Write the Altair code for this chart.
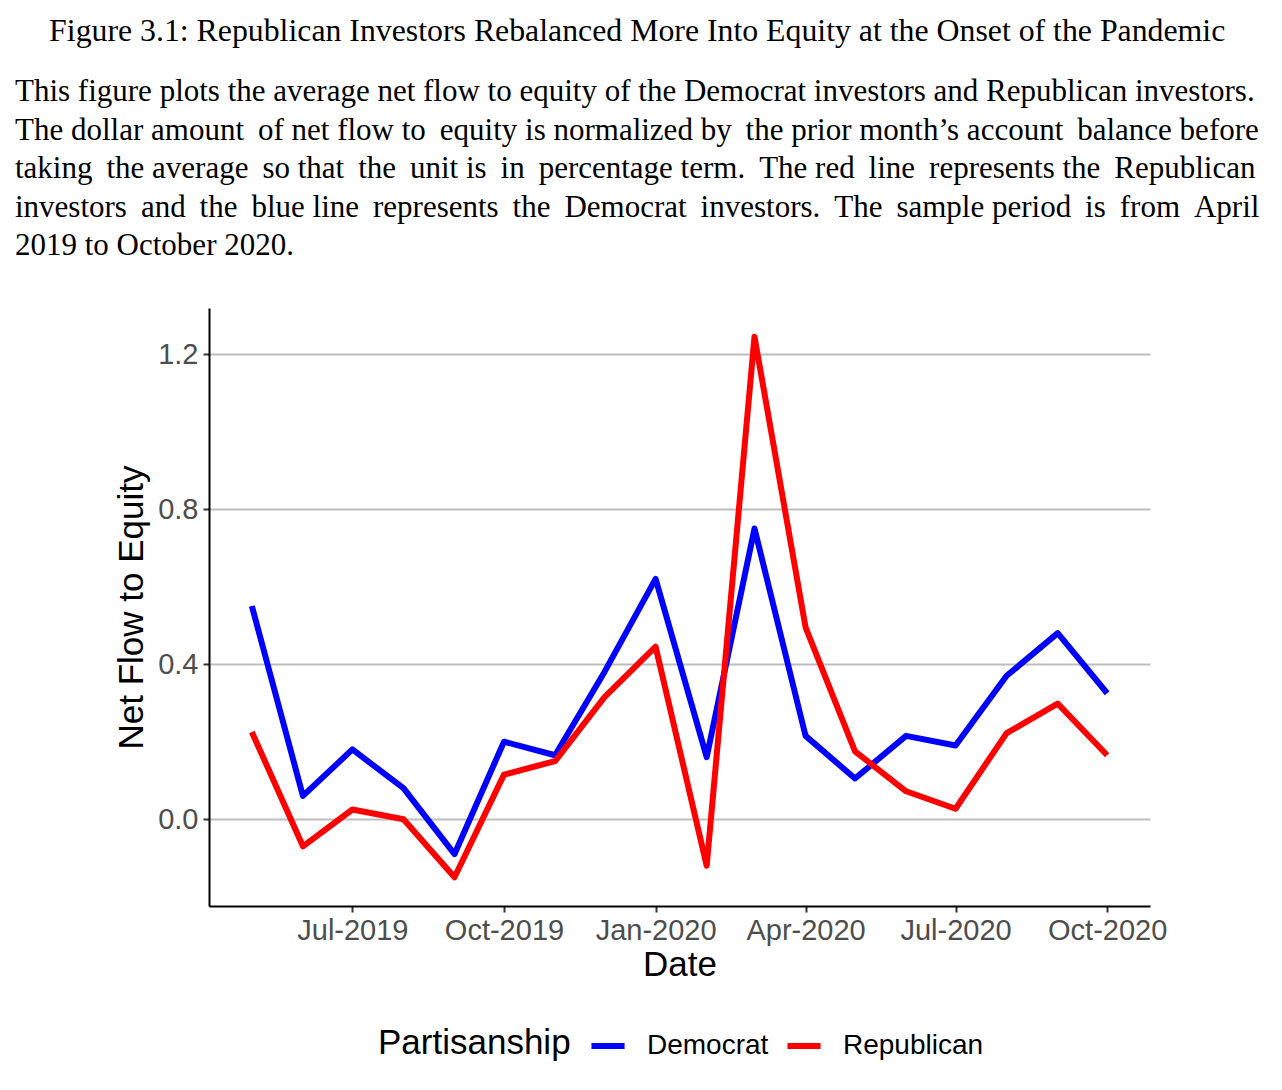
import altair as alt
import pandas as pd

months = ["2019-05-01", "2019-06-01", "2019-07-01", "2019-08-01", "2019-09-01",
          "2019-10-01", "2019-11-01", "2019-12-01", "2020-01-01", "2020-02-01",
          "2020-03-01", "2020-04-01", "2020-05-01", "2020-06-01", "2020-07-01",
          "2020-08-01", "2020-09-01", "2020-10-01"]
democrat = [0.55, 0.06, 0.18, 0.08, -0.09, 0.20, 0.165, 0.38, 0.62, 0.16,
            0.75, 0.215, 0.105, 0.215, 0.19, 0.37, 0.48, 0.325]
republican = [0.225, -0.07, 0.025, 0.0, -0.15, 0.115, 0.15, 0.315, 0.445, -0.12,
              1.245, 0.495, 0.175, 0.072, 0.027, 0.222, 0.298, 0.165]
parties = ["Democrat", "Republican"]
party_colors = ["#0000ff", "#ff0000"]
y_ticks = [0.0, 0.4, 0.8, 1.2]
x_tick_months = [(2019, 7), (2019, 10), (2020, 1), (2020, 4), (2020, 7), (2020, 10)]

figure_title = "Figure 3.1: Republican Investors Rebalanced More Into Equity at the Onset of the Pandemic"
caption_lines = [
    "This figure plots the average net flow to equity of the Democrat investors and Republican investors.",
    "The dollar amount of net flow to equity is normalized by the prior month\u2019s account balance before",
    "taking the average so that the unit is in percentage term.  The red line represents the Republican",
    "investors and the blue line represents the Democrat investors.  The sample period is from April",
    "2019 to October 2020.",
]
# number of extra thin spaces per line, to imitate the justified paragraph
caption_extra = [0, 4, 10, 12, 0]


def justify(line, n_extra):
    words = line.split()
    gaps = len(words) - 1
    if n_extra <= 0 or gaps <= 0:
        return " ".join(words)
    chosen = {min(gaps - 1, int((i + 0.5) * gaps / n_extra)) for i in range(n_extra)}
    out = words[0]
    for g in range(gaps):
        out += (" \u2009" if g in chosen else " ") + words[g + 1]
    return out


caption_text = [justify(l, n) for l, n in zip(caption_lines, caption_extra)]

rows = []
for m, d, r in zip(months, democrat, republican):
    rows.append({"date": m + "T00:00:00", "party": "Democrat", "value": d})
    rows.append({"date": m + "T00:00:00", "party": "Republican", "value": r})
df = pd.DataFrame(rows)

SANS = "Liberation Sans"
SERIF = "Liberation Serif"

main = alt.Chart(df).mark_line(strokeWidth=6, strokeJoin="round", strokeCap="butt").encode(
    x=alt.X("date:T",
            scale=alt.Scale(domain=[alt.DateTime(year=2019, month=4, date=5),
                                    alt.DateTime(year=2020, month=10, date=27)]),
            axis=alt.Axis(values=[alt.DateTime(year=y, month=m, date=1) for y, m in x_tick_months],
                          format="%b-%Y", title="Date", grid=False,
                          labelPadding=4, titlePadding=2)),
    y=alt.Y("value:Q",
            scale=alt.Scale(domain=[-0.224, 1.319], nice=False, zero=False),
            axis=alt.Axis(values=y_ticks, format=".1f", title="Net Flow to Equity",
                          grid=True, labelPadding=5, titlePadding=8)),
    color=alt.Color("party:N", scale=alt.Scale(domain=parties, range=party_colors),
                    legend=alt.Legend(title="Partisanship", orient="none", direction="horizontal",
                                      legendX=169, legendY=718, titleOrient="left",
                                      symbolType="stroke", symbolStrokeWidth=6, symbolSize=1100,
                                      titleFont=SANS, titleFontSize=35, titleFontWeight="normal",
                                      titleColor="black", titlePadding=17, titleLimit=400,
                                      labelFont=SANS, labelFontSize=28, labelColor="black",
                                      labelOffset=19, columnPadding=6)),
).properties(
    width=941, height=598,
    title=alt.TitleParams(text=caption_text, anchor="start", frame="group", dx=-194,
                          font=SERIF, fontSize=31, fontWeight="normal", color="black",
                          lineHeight=38.5, offset=46),
)

chart = alt.vconcat(main).properties(
    title=alt.TitleParams(text=figure_title, anchor="middle", font=SERIF, fontSize=31.8,
                          fontWeight="normal", color="black", offset=28),
    padding={"left": 15, "top": 16, "right": 10, "bottom": 10},
).configure_view(stroke=None).configure_axis(
    domainColor="black", domainWidth=2, tickColor="#333333", tickWidth=2, tickSize=6,
    labelFont=SANS, labelFontSize=29, labelColor="#4d4d4d",
    titleFont=SANS, titleFontSize=35, titleFontWeight="normal", titleColor="black",
    gridColor="#bdbdbd", gridWidth=1.8,
)

chart.save("out.html", embed_options={"renderer": "svg", "actions": False})
